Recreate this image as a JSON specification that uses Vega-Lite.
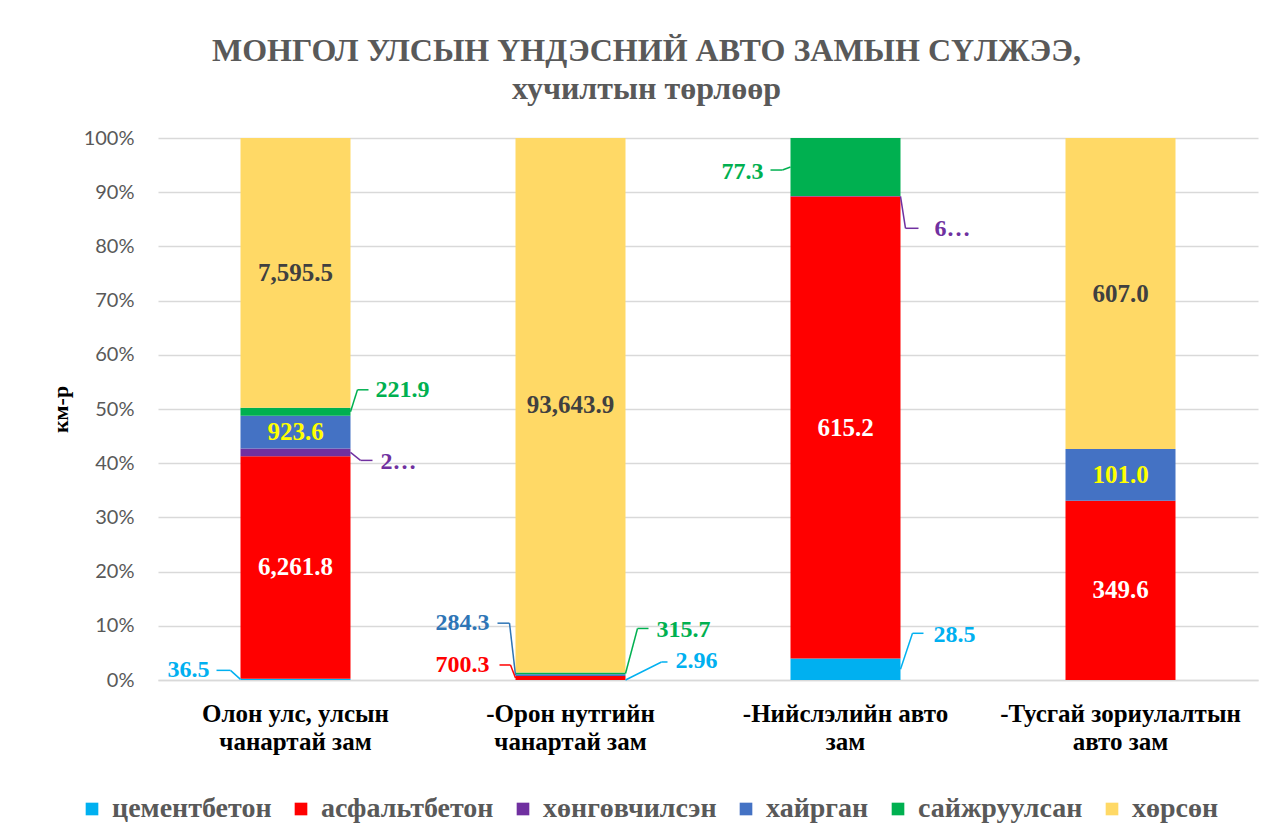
{
  "$schema": "https://vega.github.io/schema/vega-lite/v6.json",
  "width": 1100,
  "height": 542,
  "padding": {"left": 49, "top": 35, "right": 20, "bottom": 5},
  "background": "white",
  "title": {
    "text": "МОНГОЛ УЛСЫН ҮНДЭСНИЙ АВТО ЗАМЫН СҮЛЖЭЭ,",
    "subtitle": "хучилтын төрлөөр",
    "anchor": "middle",
    "frame": "bounds",
    "font": "Liberation Serif",
    "fontSize": 32,
    "fontWeight": "bold",
    "color": "#595959",
    "subtitleFont": "Liberation Serif",
    "subtitleFontSize": 32,
    "subtitleFontWeight": "bold",
    "subtitleColor": "#595959",
    "subtitlePadding": 6,
    "offset": 22,
    "dx": -7
  },
  "data": {
    "values": [
      {"cat": "Олон улс, улсын чанартай зам", "type": "цементбетон", "value": 36.5, "label": "36.5"},
      {"cat": "Олон улс, улсын чанартай зам", "type": "асфальтбетон", "value": 6261.8, "label": "6,261.8"},
      {"cat": "Олон улс, улсын чанартай зам", "type": "хөнгөвчилсэн", "value": 216, "label": "2…"},
      {"cat": "Олон улс, улсын чанартай зам", "type": "хайрган", "value": 923.6, "label": "923.6"},
      {"cat": "Олон улс, улсын чанартай зам", "type": "сайжруулсан", "value": 221.9, "label": "221.9"},
      {"cat": "Олон улс, улсын чанартай зам", "type": "хөрсөн", "value": 7595.5, "label": "7,595.5"},
      {"cat": "-Орон нутгийн чанартай зам", "type": "цементбетон", "value": 2.96, "label": "2.96"},
      {"cat": "-Орон нутгийн чанартай зам", "type": "асфальтбетон", "value": 700.3, "label": "700.3"},
      {"cat": "-Орон нутгийн чанартай зам", "type": "хайрган", "value": 284.3, "label": "284.3"},
      {"cat": "-Орон нутгийн чанартай зам", "type": "сайжруулсан", "value": 315.7, "label": "315.7"},
      {"cat": "-Орон нутгийн чанартай зам", "type": "хөрсөн", "value": 93643.9, "label": "93,643.9"},
      {"cat": "-Нийслэлийн авто зам", "type": "цементбетон", "value": 28.5, "label": "28.5"},
      {"cat": "-Нийслэлийн авто зам", "type": "асфальтбетон", "value": 615.2, "label": "615.2"},
      {"cat": "-Нийслэлийн авто зам", "type": "хөнгөвчилсэн", "value": 0.6, "label": "6…"},
      {"cat": "-Нийслэлийн авто зам", "type": "сайжруулсан", "value": 77.3, "label": "77.3"},
      {"cat": "-Тусгай зориулалтын авто зам", "type": "асфальтбетон", "value": 349.6, "label": "349.6"},
      {"cat": "-Тусгай зориулалтын авто зам", "type": "хайрган", "value": 101.0, "label": "101.0"},
      {"cat": "-Тусгай зориулалтын авто зам", "type": "хөрсөн", "value": 607.0, "label": "607.0"}
    ]
  },
  "transform": [
    {"calculate": "indexof(['цементбетон','асфальтбетон','хөнгөвчилсэн','хайрган','сайжруулсан','хөрсөн'], datum.type)", "as": "o"},
    {"stack": "value", "groupby": ["cat"], "sort": [{"field": "o", "order": "ascending"}], "offset": "normalize", "as": ["y0", "y1"]},
    {"calculate": "(datum.y0 + datum.y1) / 2", "as": "mid"}
  ],
  "config": {
    "view": {"stroke": null},
    "axis": {"labelFont": "Lato", "titleFont": "Liberation Serif"},
    "legend": {"labelFont": "Liberation Serif", "labelFontWeight": "bold", "labelFontSize": 28, "labelColor": "#595959"}
  },
  "layer": [
    {
      "mark": {"type": "bar"},
      "encoding": {
        "x": {
          "field": "cat", "type": "nominal", "title": null,
          "sort": ["Олон улс, улсын чанартай зам", "-Орон нутгийн чанартай зам", "-Нийслэлийн авто зам", "-Тусгай зориулалтын авто зам"],
          "scale": {"paddingInner": 0.6, "paddingOuter": 0.3},
          "axis": {
            "labelAngle": 0, "domain": true, "domainColor": "#d9d9d9", "domainWidth": 1.5, "ticks": false, "tickSize": 0,
            "labelFont": "Liberation Serif", "labelFontWeight": "bold", "labelFontSize": 25, "labelColor": "#000000",
            "labelPadding": 21, "labelLineHeight": 28, "labelLimit": 0,
            "labelExpr": "datum.value == 'Олон улс, улсын чанартай зам' ? ['Олон улс, улсын','чанартай зам'] : datum.value == '-Орон нутгийн чанартай зам' ? ['-Орон нутгийн','чанартай зам'] : datum.value == '-Нийслэлийн авто зам' ? ['-Нийслэлийн авто','зам'] : ['-Тусгай зориулалтын','авто зам']"
          }
        },
        "y": {
          "field": "y0", "type": "quantitative", "title": "км-р",
          "scale": {"domain": [0, 1], "nice": false},
          "axis": {
            "format": ".0%", "values": [0, 0.1, 0.2, 0.3, 0.4, 0.5, 0.6, 0.7, 0.8, 0.9, 1],
            "domain": false, "ticks": false, "tickSize": 0, "gridColor": "#d9d9d9", "gridWidth": 1.5,
            "labelFont": "Lato", "labelFontSize": 20, "labelColor": "#595959", "labelPadding": 24,
            "titleFont": "Liberation Serif", "titleFontSize": 22, "titleFontWeight": "bold", "titleColor": "#000000",
            "titleX": -86, "titleY": 271, "titleAngle": -90, "titleBaseline": "bottom", "titleAlign": "center"
          }
        },
        "y2": {"field": "y1"},
        "color": {
          "field": "type", "type": "nominal",
          "scale": {
            "domain": ["цементбетон", "асфальтбетон", "хөнгөвчилсэн", "хайрган", "сайжруулсан", "хөрсөн"],
            "range": ["#00b0f0", "#ff0000", "#7030a0", "#4472c4", "#00b050", "#ffd966"]
          },
          "legend": {
            "title": null, "orient": "none", "direction": "horizontal", "columns": 6,
            "legendX": -80, "legendY": 657,
            "symbolType": "square", "symbolSize": 160, "symbolStrokeWidth": 0,
            "labelFont": "Liberation Serif", "labelFontWeight": "bold", "labelFontSize": 28, "labelColor": "#595959",
            "labelOffset": 6, "columnPadding": 15, "labelLimit": 300
          }
        },
        "order": {"field": "o"}
      }
    },
    {
      "transform": [
        {"filter": "datum.y1 - datum.y0 > 0.05 && datum.type !== 'сайжруулсан'"},
        {"calculate": "datum.type === 'асфальтбетон' ? '#ffffff' : datum.type === 'хайрган' ? '#ffff00' : '#404040'", "as": "tc"}
      ],
      "mark": {"type": "text", "font": "Liberation Serif", "fontWeight": "bold", "fontSize": 25, "baseline": "middle"},
      "encoding": {
        "x": {"field": "cat", "type": "nominal", "title": null, "sort": ["Олон улс, улсын чанартай зам", "-Орон нутгийн чанартай зам", "-Нийслэлийн авто зам", "-Тусгай зориулалтын авто зам"]},
        "y": {"field": "mid", "type": "quantitative"},
        "text": {"field": "label"},
        "fill": {"field": "tc", "type": "nominal", "scale": null}
      }
    },
    {
      "transform": [{"filter": "datum.cat === 'Олон улс, улсын чанартай зам' && datum.type === 'цементбетон'"}],
      "encoding": {
        "x": {"field": "cat", "type": "nominal", "title": null, "bandPosition": 0, "sort": ["Олон улс, улсын чанартай зам", "-Орон нутгийн чанартай зам", "-Нийслэлийн авто зам", "-Тусгай зориулалтын авто зам"]},
        "y": {"field": "mid", "type": "quantitative"}
      },
      "layer": [
        {"mark": {"type": "rule", "color": "#00b0f0", "strokeWidth": 1.5, "x2Offset": -10, "y2Offset": -9}, "encoding": {"x2": {"field": "cat", "bandPosition": 0}, "y2": {"field": "mid"}}},
        {"mark": {"type": "rule", "color": "#00b0f0", "strokeWidth": 1.5, "xOffset": -10, "yOffset": -9, "x2Offset": -24, "y2Offset": -9}, "encoding": {"x2": {"field": "cat", "bandPosition": 0}, "y2": {"field": "mid"}}},
        {"mark": {"type": "text", "color": "#00b0f0", "font": "Liberation Serif", "fontWeight": "bold", "fontSize": 24, "align": "right", "baseline": "middle", "dx": -31, "dy": -9}, "encoding": {"text": {"field": "label"}}}
      ]
    },
    {
      "transform": [{"filter": "datum.cat === 'Олон улс, улсын чанартай зам' && datum.type === 'хөнгөвчилсэн'"}],
      "encoding": {
        "x": {"field": "cat", "type": "nominal", "title": null, "bandPosition": 1, "sort": ["Олон улс, улсын чанартай зам", "-Орон нутгийн чанартай зам", "-Нийслэлийн авто зам", "-Тусгай зориулалтын авто зам"]},
        "y": {"field": "mid", "type": "quantitative"}
      },
      "layer": [
        {"mark": {"type": "rule", "color": "#7030a0", "strokeWidth": 1.5, "x2Offset": 10, "y2Offset": 8}, "encoding": {"x2": {"field": "cat", "bandPosition": 1}, "y2": {"field": "mid"}}},
        {"mark": {"type": "rule", "color": "#7030a0", "strokeWidth": 1.5, "xOffset": 10, "yOffset": 8, "x2Offset": 22, "y2Offset": 8}, "encoding": {"x2": {"field": "cat", "bandPosition": 1}, "y2": {"field": "mid"}}},
        {"mark": {"type": "text", "color": "#7030a0", "font": "Liberation Serif", "fontWeight": "bold", "fontSize": 24, "align": "left", "baseline": "middle", "dx": 30, "dy": 10}, "encoding": {"text": {"field": "label"}}}
      ]
    },
    {
      "transform": [{"filter": "datum.cat === 'Олон улс, улсын чанартай зам' && datum.type === 'сайжруулсан'"}],
      "encoding": {
        "x": {"field": "cat", "type": "nominal", "title": null, "bandPosition": 1, "sort": ["Олон улс, улсын чанартай зам", "-Орон нутгийн чанартай зам", "-Нийслэлийн авто зам", "-Тусгай зориулалтын авто зам"]},
        "y": {"field": "mid", "type": "quantitative"}
      },
      "layer": [
        {"mark": {"type": "rule", "color": "#00b050", "strokeWidth": 1.5, "x2Offset": 7, "y2Offset": -22}, "encoding": {"x2": {"field": "cat", "bandPosition": 1}, "y2": {"field": "mid"}}},
        {"mark": {"type": "rule", "color": "#00b050", "strokeWidth": 1.5, "xOffset": 7, "yOffset": -22, "x2Offset": 18, "y2Offset": -22}, "encoding": {"x2": {"field": "cat", "bandPosition": 1}, "y2": {"field": "mid"}}},
        {"mark": {"type": "text", "color": "#00b050", "font": "Liberation Serif", "fontWeight": "bold", "fontSize": 24, "align": "left", "baseline": "middle", "dx": 25, "dy": -22}, "encoding": {"text": {"field": "label"}}}
      ]
    },
    {
      "transform": [{"filter": "datum.cat === '-Орон нутгийн чанартай зам' && datum.type === 'хайрган'"}],
      "encoding": {
        "x": {"field": "cat", "type": "nominal", "title": null, "bandPosition": 0, "sort": ["Олон улс, улсын чанартай зам", "-Орон нутгийн чанартай зам", "-Нийслэлийн авто зам", "-Тусгай зориулалтын авто зам"]},
        "y": {"field": "mid", "type": "quantitative"}
      },
      "layer": [
        {"mark": {"type": "rule", "color": "#2e75b6", "strokeWidth": 1.5, "x2Offset": -6, "y2Offset": -52}, "encoding": {"x2": {"field": "cat", "bandPosition": 0}, "y2": {"field": "mid"}}},
        {"mark": {"type": "rule", "color": "#2e75b6", "strokeWidth": 1.5, "xOffset": -6, "yOffset": -52, "x2Offset": -18, "y2Offset": -52}, "encoding": {"x2": {"field": "cat", "bandPosition": 0}, "y2": {"field": "mid"}}},
        {"mark": {"type": "text", "color": "#2e75b6", "font": "Liberation Serif", "fontWeight": "bold", "fontSize": 24, "align": "right", "baseline": "middle", "dx": -26, "dy": -52}, "encoding": {"text": {"field": "label"}}}
      ]
    },
    {
      "transform": [{"filter": "datum.cat === '-Орон нутгийн чанартай зам' && datum.type === 'асфальтбетон'"}],
      "encoding": {
        "x": {"field": "cat", "type": "nominal", "title": null, "bandPosition": 0, "sort": ["Олон улс, улсын чанартай зам", "-Орон нутгийн чанартай зам", "-Нийслэлийн авто зам", "-Тусгай зориулалтын авто зам"]},
        "y": {"field": "mid", "type": "quantitative"}
      },
      "layer": [
        {"mark": {"type": "rule", "color": "#ff0000", "strokeWidth": 1.5, "x2Offset": -5, "y2Offset": -13}, "encoding": {"x2": {"field": "cat", "bandPosition": 0}, "y2": {"field": "mid"}}},
        {"mark": {"type": "rule", "color": "#ff0000", "strokeWidth": 1.5, "xOffset": -5, "yOffset": -13, "x2Offset": -16, "y2Offset": -13}, "encoding": {"x2": {"field": "cat", "bandPosition": 0}, "y2": {"field": "mid"}}},
        {"mark": {"type": "text", "color": "#ff0000", "font": "Liberation Serif", "fontWeight": "bold", "fontSize": 24, "align": "right", "baseline": "middle", "dx": -26, "dy": -13}, "encoding": {"text": {"field": "label"}}}
      ]
    },
    {
      "transform": [{"filter": "datum.cat === '-Орон нутгийн чанартай зам' && datum.type === 'сайжруулсан'"}],
      "encoding": {
        "x": {"field": "cat", "type": "nominal", "title": null, "bandPosition": 1, "sort": ["Олон улс, улсын чанартай зам", "-Орон нутгийн чанартай зам", "-Нийслэлийн авто зам", "-Тусгай зориулалтын авто зам"]},
        "y": {"field": "mid", "type": "quantitative"}
      },
      "layer": [
        {"mark": {"type": "rule", "color": "#00b050", "strokeWidth": 1.5, "x2Offset": 12, "y2Offset": -45}, "encoding": {"x2": {"field": "cat", "bandPosition": 1}, "y2": {"field": "mid"}}},
        {"mark": {"type": "rule", "color": "#00b050", "strokeWidth": 1.5, "xOffset": 12, "yOffset": -45, "x2Offset": 23, "y2Offset": -45}, "encoding": {"x2": {"field": "cat", "bandPosition": 1}, "y2": {"field": "mid"}}},
        {"mark": {"type": "text", "color": "#00b050", "font": "Liberation Serif", "fontWeight": "bold", "fontSize": 24, "align": "left", "baseline": "middle", "dx": 31, "dy": -43}, "encoding": {"text": {"field": "label"}}}
      ]
    },
    {
      "transform": [{"filter": "datum.cat === '-Орон нутгийн чанартай зам' && datum.type === 'цементбетон'"}],
      "encoding": {
        "x": {"field": "cat", "type": "nominal", "title": null, "bandPosition": 1, "sort": ["Олон улс, улсын чанартай зам", "-Орон нутгийн чанартай зам", "-Нийслэлийн авто зам", "-Тусгай зориулалтын авто зам"]},
        "y": {"field": "mid", "type": "quantitative"}
      },
      "layer": [
        {"mark": {"type": "rule", "color": "#00b0f0", "strokeWidth": 1.5, "x2Offset": 36, "y2Offset": -18}, "encoding": {"x2": {"field": "cat", "bandPosition": 1}, "y2": {"field": "mid"}}},
        {"mark": {"type": "rule", "color": "#00b0f0", "strokeWidth": 1.5, "xOffset": 36, "yOffset": -18, "x2Offset": 42, "y2Offset": -18}, "encoding": {"x2": {"field": "cat", "bandPosition": 1}, "y2": {"field": "mid"}}},
        {"mark": {"type": "text", "color": "#00b0f0", "font": "Liberation Serif", "fontWeight": "bold", "fontSize": 24, "align": "left", "baseline": "middle", "dx": 50, "dy": -19}, "encoding": {"text": {"field": "label"}}}
      ]
    },
    {
      "transform": [{"filter": "datum.cat === '-Нийслэлийн авто зам' && datum.type === 'сайжруулсан'"}],
      "encoding": {
        "x": {"field": "cat", "type": "nominal", "title": null, "bandPosition": 0, "sort": ["Олон улс, улсын чанартай зам", "-Орон нутгийн чанартай зам", "-Нийслэлийн авто зам", "-Тусгай зориулалтын авто зам"]},
        "y": {"field": "mid", "type": "quantitative"}
      },
      "layer": [
        {"mark": {"type": "rule", "color": "#00b050", "strokeWidth": 1.5, "x2Offset": -8, "y2Offset": 3}, "encoding": {"x2": {"field": "cat", "bandPosition": 0}, "y2": {"field": "mid"}}},
        {"mark": {"type": "rule", "color": "#00b050", "strokeWidth": 1.5, "xOffset": -8, "yOffset": 3, "x2Offset": -20, "y2Offset": 3}, "encoding": {"x2": {"field": "cat", "bandPosition": 0}, "y2": {"field": "mid"}}},
        {"mark": {"type": "text", "color": "#00b050", "font": "Liberation Serif", "fontWeight": "bold", "fontSize": 24, "align": "right", "baseline": "middle", "dx": -27, "dy": 5}, "encoding": {"text": {"field": "label"}}}
      ]
    },
    {
      "transform": [{"filter": "datum.cat === '-Нийслэлийн авто зам' && datum.type === 'хөнгөвчилсэн'"}],
      "encoding": {
        "x": {"field": "cat", "type": "nominal", "title": null, "bandPosition": 1, "sort": ["Олон улс, улсын чанартай зам", "-Орон нутгийн чанартай зам", "-Нийслэлийн авто зам", "-Тусгай зориулалтын авто зам"]},
        "y": {"field": "mid", "type": "quantitative"}
      },
      "layer": [
        {"mark": {"type": "rule", "color": "#7030a0", "strokeWidth": 1.5, "x2Offset": 5, "y2Offset": 32}, "encoding": {"x2": {"field": "cat", "bandPosition": 1}, "y2": {"field": "mid"}}},
        {"mark": {"type": "rule", "color": "#7030a0", "strokeWidth": 1.5, "xOffset": 5, "yOffset": 32, "x2Offset": 18, "y2Offset": 32}, "encoding": {"x2": {"field": "cat", "bandPosition": 1}, "y2": {"field": "mid"}}},
        {"mark": {"type": "text", "color": "#7030a0", "font": "Liberation Serif", "fontWeight": "bold", "fontSize": 24, "align": "left", "baseline": "middle", "dx": 34, "dy": 33}, "encoding": {"text": {"field": "label"}}}
      ]
    },
    {
      "transform": [{"filter": "datum.cat === '-Нийслэлийн авто зам' && datum.type === 'цементбетон'"}],
      "encoding": {
        "x": {"field": "cat", "type": "nominal", "title": null, "bandPosition": 1, "sort": ["Олон улс, улсын чанартай зам", "-Орон нутгийн чанартай зам", "-Нийслэлийн авто зам", "-Тусгай зориулалтын авто зам"]},
        "y": {"field": "mid", "type": "quantitative"}
      },
      "layer": [
        {"mark": {"type": "rule", "color": "#00b0f0", "strokeWidth": 1.5, "x2Offset": 12, "y2Offset": -36}, "encoding": {"x2": {"field": "cat", "bandPosition": 1}, "y2": {"field": "mid"}}},
        {"mark": {"type": "rule", "color": "#00b0f0", "strokeWidth": 1.5, "xOffset": 12, "yOffset": -36, "x2Offset": 23, "y2Offset": -36}, "encoding": {"x2": {"field": "cat", "bandPosition": 1}, "y2": {"field": "mid"}}},
        {"mark": {"type": "text", "color": "#00b0f0", "font": "Liberation Serif", "fontWeight": "bold", "fontSize": 24, "align": "left", "baseline": "middle", "dx": 33, "dy": -34}, "encoding": {"text": {"field": "label"}}}
      ]
    }
  ]
}
